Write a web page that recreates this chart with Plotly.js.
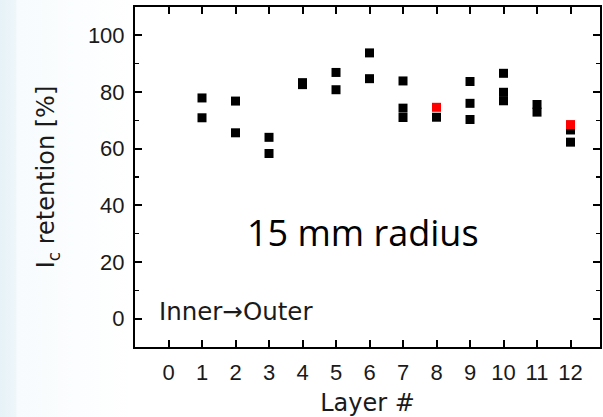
<!DOCTYPE html>
<html>
<head>
<meta charset="utf-8">
<script src="https://cdn.plot.ly/plotly-3.0.1.min.js"></script>
<style>
html, body { margin: 0; padding: 0; }
body { width: 603px; height: 417px; overflow: hidden;
  background: linear-gradient(to right, #e6f2f7 0px, #eef6fa 16px, #f7fbfd 17px, #ffffff 130px); }
#chart { width: 603px; height: 417px; }
</style>
</head>
<body>
<div id="chart"></div>
<script>
// Data
const layersBlack = [1, 1, 2, 2, 3, 3, 4, 4, 5, 5, 6, 6, 7, 7, 7, 8, 9, 9, 9, 10, 10, 10, 11, 11, 12, 12];
const retentionBlack = [77.9, 70.9, 76.8, 65.6, 64.0, 58.3, 82.6, 83.3, 86.9, 80.8, 93.8, 84.7, 83.9, 74.3, 71.0, 71.1, 83.7, 76.0, 70.3, 86.6, 79.9, 76.9, 75.6, 72.9, 66.6, 62.3];
const layersRed = [8, 12];
const retentionRed = [74.6, 68.5];
const xTicks = [0, 1, 2, 3, 4, 5, 6, 7, 8, 9, 10, 11, 12];
const yTicks = [0, 20, 40, 60, 80, 100];

const traces = [
  { x: layersBlack, y: retentionBlack, type: 'scatter', mode: 'markers',
    marker: { symbol: 'square', size: 9, color: '#000000', line: { width: 0 } }, hoverinfo: 'x+y' },
  { x: layersRed, y: retentionRed, type: 'scatter', mode: 'markers',
    marker: { symbol: 'square', size: 9, color: '#ff0000', line: { width: 0 } }, hoverinfo: 'x+y' }
];

const tickFont = { family: 'Liberation Sans, Arial, sans-serif', size: 22, color: '#1a1a1a' };
const titleFont = { family: 'DejaVu Sans, sans-serif', size: 24, color: '#1a1a1a' };

const layout = {
  width: 603, height: 417,
  margin: { l: 135, r: 3, t: 7, b: 70 },
  paper_bgcolor: 'rgba(0,0,0,0)',
  plot_bgcolor: '#ffffff',
  showlegend: false,
  xaxis: {
    range: [-1, 12.88], tickvals: xTicks, ticktext: xTicks.map(String),
    showline: true, linecolor: '#000', linewidth: 2, mirror: 'ticks',
    ticks: 'inside', ticklen: 7, tickwidth: 2, tickcolor: '#000',
    showgrid: false, zeroline: false, tickfont: tickFont, ticklabelstandoff: 5,
    title: { text: 'Layer #', font: titleFont, standoff: 10 }
  },
  yaxis: {
    range: [-10, 110], tickvals: yTicks, ticktext: yTicks.map(String),
    showline: true, linecolor: '#000', linewidth: 2, mirror: 'ticks',
    ticks: 'inside', ticklen: 7, tickwidth: 2, tickcolor: '#000',
    minor: { dtick: 10, ticks: 'inside', ticklen: 4, tickwidth: 1.5, tickcolor: '#000' },
    showgrid: false, zeroline: false, tickfont: tickFont, ticklabelstandoff: 4,
    title: { text: 'I<sub>c</sub> retention [%]', font: titleFont, standoff: 26 }
  },
  annotations: [
    { x: 5.81, y: 30.4, xref: 'x', yref: 'y', text: '15 mm radius', showarrow: false,
      font: { family: 'Open Sans, sans-serif', size: 36, color: '#000' }, xanchor: 'center', yanchor: 'middle' },
    { x: -0.34, y: 2.4, xref: 'x', yref: 'y', text: 'Inner\u2192Outer', showarrow: false,
      font: { family: 'DejaVu Sans, sans-serif', size: 24.5, color: '#1a1a1a' }, xanchor: 'left', yanchor: 'middle' }
  ]
};

Plotly.newPlot('chart', traces, layout, { displayModeBar: false, staticPlot: true });
</script>
</body>
</html>
